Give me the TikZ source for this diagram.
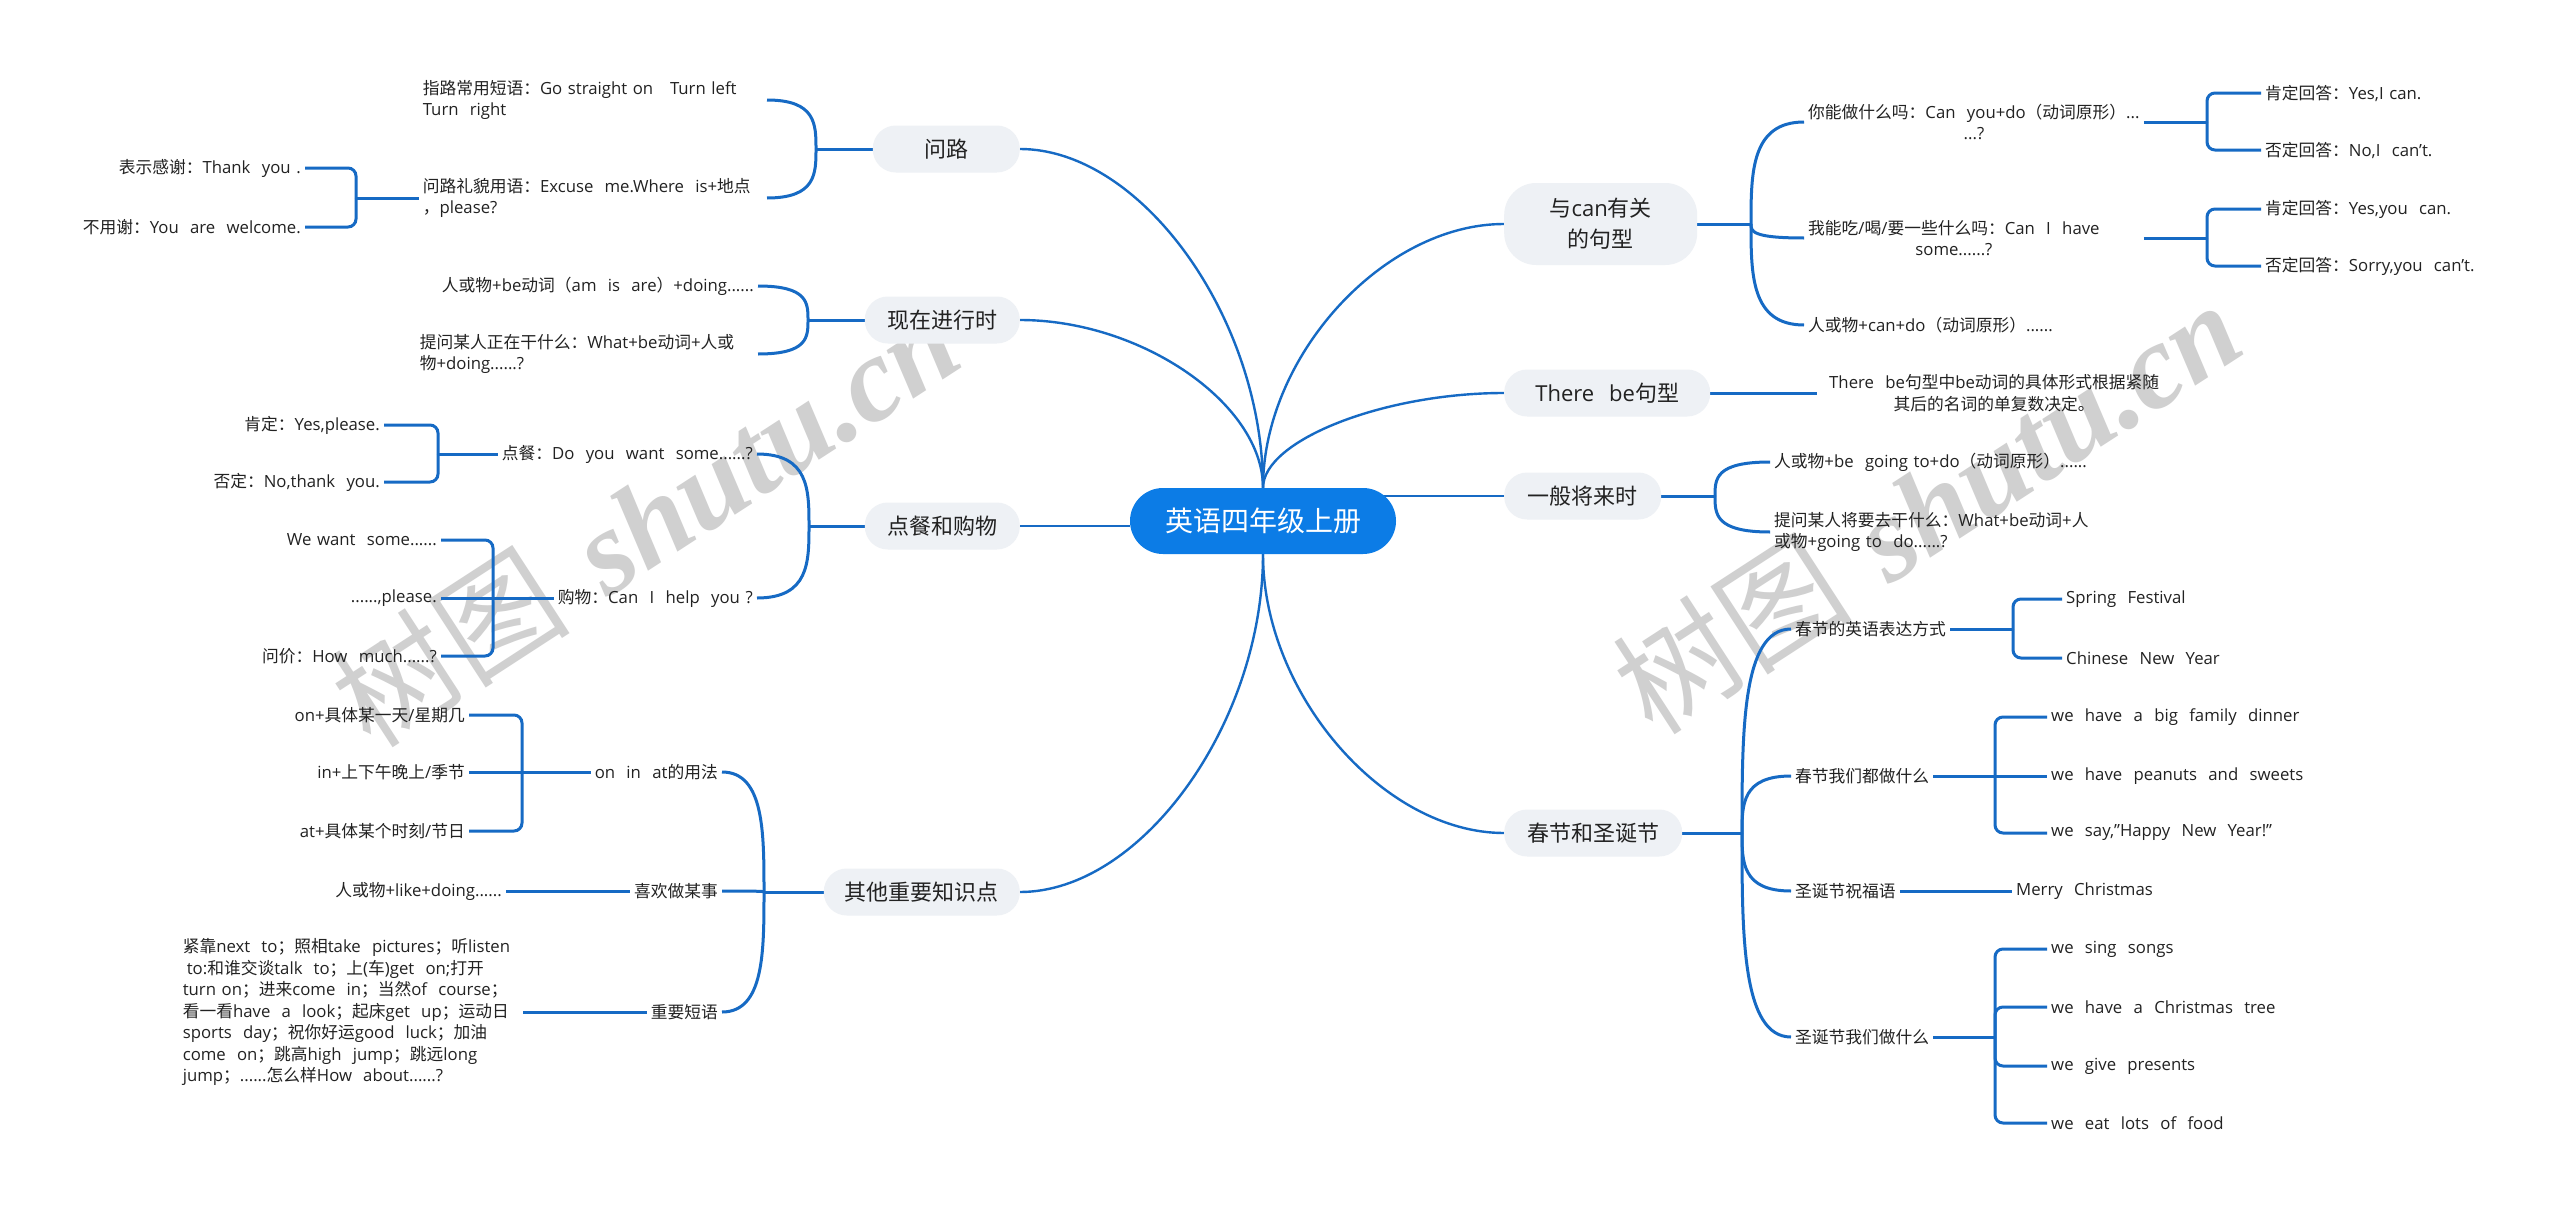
\documentclass[tikz,border=0pt]{standalone}
\usepackage{fontspec}
\setmainfont{Open Sans}[WordSpace=1.3]
\newfontfamily\cjkf{Noto Sans CJK SC}
\newfontfamily\wmserif{Liberation Serif}
\usetikzlibrary{calc}

\XeTeXinterchartokenstate=1
\newXeTeXintercharclass\cjkcls
\newcount\cjkcnt
\def\setcls#1#2#3{\cjkcnt=#1 \loop \XeTeXcharclass\cjkcnt=#3 \ifnum\cjkcnt<#2 \advance\cjkcnt by 1 \repeat}
\setcls{"21}{"7E}{0}
\setcls{"3000}{"303F}{\cjkcls}
\setcls{"4E00}{"9FFF}{\cjkcls}
\setcls{"FF00}{"FFEF}{\cjkcls}
\XeTeXinterchartoks 0 \cjkcls = {\begingroup\cjkf}
\XeTeXinterchartoks 4095 \cjkcls = {\begingroup\cjkf}
\XeTeXinterchartoks \cjkcls 0 = {\endgroup}
\XeTeXinterchartoks \cjkcls 4095 = {\endgroup}

\definecolor{lnc}{RGB}{22,106,196}
\definecolor{rootc}{RGB}{12,124,230}
\definecolor{mainc}{RGB}{238,241,245}
\definecolor{wmc}{RGB}{208,208,208}
\definecolor{txt}{RGB}{34,34,34}

\pgfdeclarelayer{bg}
\pgfsetlayers{bg,main}

\newcommand\mcurve[2]{\draw[mline] (#1) .. controls ($(#1)!0.5!(#1|-#2)$) and ($(#2)!0.5!(#1|-#2)$) .. (#2);}
\newcommand\bcurve[2]{\draw[sline] (#1) .. controls ($(#1)!0.5!(#1|-#2)$) and (#1|-#2) .. (#2);}

\begin{document}
\begin{tikzpicture}[x=1pt,y=-1pt,
  rootbox/.style={fill=rootc, rounded corners=33pt, minimum height=66pt, minimum width=266pt, text=white, font=\fontsize{28}{34}\selectfont, inner sep=0pt},
  mainbox/.style={fill=mainc, rounded corners=23pt, minimum height=47pt, text=txt, font=\fontsize{22}{27}\selectfont, inner sep=0pt},
  leaf/.style={text=txt, font=\fontsize{16.75}{21.5}\selectfont, inner xsep=4pt, inner ysep=2pt},
  mline/.style={draw=lnc, line width=2.4pt},
  sline/.style={draw=lnc, line width=3pt},
  bline/.style={draw=lnc, line width=3pt, rounded corners=8pt},
  wm/.style={text=wmc, font=\fontsize{120}{120}\selectfont, inner sep=0pt},
]
\useasboundingbox (0,0) rectangle (2560,1215);

% ---------- root and main topics ----------
\node[rootbox] (root) at (1263,521) {英语四年级上册};

\node[mainbox,minimum width=147pt,anchor=east] (wl) at (1020,149) {问路};
\node[mainbox,minimum width=155pt,anchor=east] (xz) at (1020,320) {现在进行时};
\node[mainbox,minimum width=155pt,anchor=east] (dc) at (1020,526) {点餐和购物};
\node[mainbox,minimum width=196pt,anchor=east] (qt) at (1020,892) {其他重要知识点};

\node[mainbox,minimum width=193pt,minimum height=82pt,rounded corners=32pt,align=center,anchor=west,font=\fontsize{22}{31}\selectfont] (yc) at (1504,224) {与can有关\\的句型};
\node[mainbox,minimum width=206pt,anchor=west] (tb) at (1504,393) {There~ be句型};
\node[mainbox,minimum width=157pt,anchor=west] (yb) at (1504,496) {一般将来时};
\node[mainbox,minimum width=178pt,anchor=west] (cj) at (1504,833) {春节和圣诞节};

% ---------- joints ----------
\coordinate (wlJ) at (816,149);
\coordinate (xzJ) at (808,320);
\coordinate (dcJ) at (809,526);
\coordinate (qtJ) at (764,892);
\coordinate (ycJ) at (1751,224);
\coordinate (ybJ) at (1715,496);
\coordinate (cjJ) at (1742,833);

% ---------- left leaves ----------
\node[leaf,anchor=east,text width=340pt,align=left] (w1) at (767,100) {\mbox{指路常用短语：Go straight on~ ~Turn left}\\\mbox{Turn~ right}};
\node[leaf,anchor=east,text width=340pt,align=left] (w2) at (767,198) {\mbox{问路礼貌用语：Excuse~ me.Where~ is+地点}\\\mbox{，please?}};
\node[leaf,anchor=east] (w2a) at (305,168) {表示感谢：Thank~ you .};
\node[leaf,anchor=east] (w2b) at (305,227) {不用谢：You~ are~ welcome.};
\coordinate (w2B) at (356,198);

\node[leaf,anchor=east] (x1) at (758,286) {人或物+be动词（am~ is~ are）+doing......};
\node[leaf,anchor=east,text width=334pt,align=left] (x2) at (758,354) {\mbox{提问某人正在干什么：What+be动词+人或}\\\mbox{物+doing......?}};

\node[leaf,anchor=east] (d1) at (757,454) {点餐：Do~ you~ want~ some......?};
\node[leaf,anchor=east] (d2) at (757,598) {购物：Can~ I~ help~ you ?};
\node[leaf,anchor=east] (d1a) at (384,425) {肯定：Yes,please.};
\node[leaf,anchor=east] (d1b) at (384,482) {否定：No,thank~ you.};
\coordinate (d1B) at (438,454);
\node[leaf,anchor=east] (d2a) at (441,540) {We want~ some......};
\node[leaf,anchor=east] (d2b) at (441,598) {......,please.};
\node[leaf,anchor=east] (d2c) at (441,656) {问价：How~ much......?};
\coordinate (d2B) at (493,598);

\node[leaf,anchor=east] (q1) at (722,772) {on~ in~ at的用法};
\node[leaf,anchor=east] (q2) at (722,891) {喜欢做某事};
\node[leaf,anchor=east] (q3) at (722,1012) {重要短语};
\node[leaf,anchor=east] (q1a) at (469,715) {on+具体某一天/星期几};
\node[leaf,anchor=east] (q1b) at (469,772) {in+上下午晚上/季节};
\node[leaf,anchor=east] (q1c) at (469,831) {at+具体某个时刻/节日};
\coordinate (q1B) at (522,772);
\node[leaf,anchor=east] (q2a) at (506,891) {人或物+like+doing......};
\node[leaf,anchor=east,text width=336pt,align=left] (q3a) at (523,1012) {\mbox{紧靠next~ to；照相take~ pictures；听listen}\\\mbox{\hspace{4pt}to:和谁交谈talk~ to；上(车)get~ on;打开}\\\mbox{turn on；进来come~ in；当然of~ course；}\\\mbox{看一看have~ a~ look；起床get~ up；运动日}\\\mbox{sports~ day；祝你好运good~ luck；加油}\\\mbox{come~ on；跳高high~ jump；跳远long}\\\mbox{jump；......怎么样How~ about......?}};

% ---------- right leaves ----------
\node[leaf,anchor=west,align=center] (c1) at (1804,122) {你能做什么吗：Can~ you+do（动词原形）...\\...?};
\node[leaf,anchor=west,align=center] (c2) at (1804,238) {我能吃/喝/要一些什么吗：Can~ I~ have\\some......?};
\node[leaf,anchor=west] (c3) at (1804,325) {人或物+can+do（动词原形）......};
\coordinate (c1B) at (2207,122);
\coordinate (c2B) at (2207,238);
\node[leaf,anchor=west] (c1a) at (2261,93) {肯定回答：Yes,I can.};
\node[leaf,anchor=west] (c1b) at (2261,150) {否定回答：No,I~ can't.};
\node[leaf,anchor=west] (c2a) at (2261,209) {肯定回答：Yes,you~ can.};
\node[leaf,anchor=west] (c2b) at (2261,266) {否定回答：Sorry,you~ can't.};

\node[leaf,anchor=west,align=center,inner xsep=12pt] (tbc) at (1817,393) {There~ be句型中be动词的具体形式根据紧随\\其后的名词的单复数决定。};

\node[leaf,anchor=west] (f1) at (1770,462) {人或物+be~ going to+do（动词原形）......};
\node[leaf,anchor=west,align=left] (f2) at (1770,532) {提问某人将要去干什么：What+be动词+人\\或物+going to~ do......?};

\node[leaf,anchor=west] (s1) at (1791,629) {春节的英语表达方式};
\node[leaf,anchor=west] (s2) at (1791,776) {春节我们都做什么};
\node[leaf,anchor=west] (s3) at (1791,891) {圣诞节祝福语};
\node[leaf,anchor=west] (s4) at (1791,1037) {圣诞节我们做什么};
\coordinate (s1B) at (2013,629);
\coordinate (s2B) at (1995,776);
\coordinate (s4B) at (1995,1037);
\node[leaf,anchor=west] (s1a) at (2062,599) {Spring~ Festival};
\node[leaf,anchor=west] (s1b) at (2062,658) {Chinese~ New~ Year};
\node[leaf,anchor=west] (s2a) at (2047,717) {we~ have~ a~ big~ family~ dinner};
\node[leaf,anchor=west] (s2b) at (2047,776) {we~ have~ peanuts~ and~ sweets};
\node[leaf,anchor=west] (s2c) at (2047,833) {we~ say,"Happy~ New~ Year!"};
\node[leaf,anchor=west] (s3a) at (2012,891) {Merry~ Christmas};
\node[leaf,anchor=west] (s4a) at (2047,949) {we~ sing~ songs};
\node[leaf,anchor=west] (s4b) at (2047,1007) {we~ have~ a~ Christmas~ tree};
\node[leaf,anchor=west] (s4c) at (2047,1066) {we~ give~ presents};
\node[leaf,anchor=west] (s4d) at (2047,1123) {we~ eat~ lots~ of~ food};

% ---------- background: watermark and connectors ----------
\begin{pgfonlayer}{bg}
\fill[white] (0,0) rectangle (2560,1215);
\node[wm,rotate=33] (wm1) at (645,519) {树图 {\wmserif\bfseries\itshape shutu.cn}};
\node[wm,rotate=33] (wm2) at (1927,506) {树图 {\wmserif\bfseries\itshape shutu.cn}};

\mcurve{root.north}{wl.east}
\mcurve{root.north}{xz.east}
\mcurve{root.north}{yc.west}
\mcurve{root.north}{tb.west}
\mcurve{root.south}{qt.east}
\mcurve{root.south}{cj.west}
\draw[mline] (root.west|-dc.east) -- (dc.east);
\draw[mline] ($(root.east|-yb.west)+(-14,0)$) -- (yb.west);

\draw[sline] (wl.west) -- (wlJ);
\bcurve{wlJ}{w1.east}
\bcurve{wlJ}{w2.east}
\draw[sline] (xz.west) -- (xzJ);
\bcurve{xzJ}{x1.east}
\bcurve{xzJ}{x2.east}
\draw[sline] (dc.west) -- (dcJ);
\bcurve{dcJ}{d1.east}
\bcurve{dcJ}{d2.east}
\draw[sline] (qt.west) -- (qtJ);
\bcurve{qtJ}{q1.east}
\bcurve{qtJ}{q2.east}
\bcurve{qtJ}{q3.east}

\draw[sline] (yc.east) -- (ycJ);
\bcurve{ycJ}{c1.west}
\bcurve{ycJ}{c2.west}
\bcurve{ycJ}{c3.west}
\draw[sline] (tb.east) -- (tbc.west);
\draw[sline] (yb.east) -- (ybJ);
\bcurve{ybJ}{f1.west}
\bcurve{ybJ}{f2.west}
\draw[sline] (cj.east) -- (cjJ);
\bcurve{cjJ}{s1.west}
\bcurve{cjJ}{s2.west}
\bcurve{cjJ}{s3.west}
\bcurve{cjJ}{s4.west}

% level 3
\draw[sline] (w2.west) -- (w2B);
\draw[bline] (w2B) |- (w2a.east);
\draw[bline] (w2B) |- (w2b.east);
\draw[sline] (d1.west) -- (d1B);
\draw[bline] (d1B) |- (d1a.east);
\draw[bline] (d1B) |- (d1b.east);
\draw[sline] (d2.west) -- (d2B);
\draw[bline] (d2B) |- (d2a.east);
\draw[sline] (d2B) -- (d2b.east);
\draw[bline] (d2B) |- (d2c.east);
\draw[sline] (q1.west) -- (q1B);
\draw[bline] (q1B) |- (q1a.east);
\draw[sline] (q1B) -- (q1b.east);
\draw[bline] (q1B) |- (q1c.east);
\draw[sline] (q2.west) -- (q2a.east);
\draw[sline] (q3.west) -- (q3a.east);

\draw[sline] (c1.east) -- (c1B);
\draw[bline] (c1B) |- (c1a.west);
\draw[bline] (c1B) |- (c1b.west);
\draw[sline] (c1.east|-c2.east) -- (c2B);
\draw[bline] (c2B) |- (c2a.west);
\draw[bline] (c2B) |- (c2b.west);
\draw[sline] (s1.east) -- (s1B);
\draw[bline] (s1B) |- (s1a.west);
\draw[bline] (s1B) |- (s1b.west);
\draw[sline] (s2.east) -- (s2B);
\draw[bline] (s2B) |- (s2a.west);
\draw[sline] (s2B) -- (s2b.west);
\draw[bline] (s2B) |- (s2c.west);
\draw[sline] (s3.east) -- (s3a.west);
\draw[sline] (s4.east) -- (s4B);
\draw[bline] (s4B) |- (s4a.west);
\draw[bline] (s4B) |- (s4b.west);
\draw[bline] (s4B) |- (s4c.west);
\draw[bline] (s4B) |- (s4d.west);
\end{pgfonlayer}
\end{tikzpicture}
\end{document}
